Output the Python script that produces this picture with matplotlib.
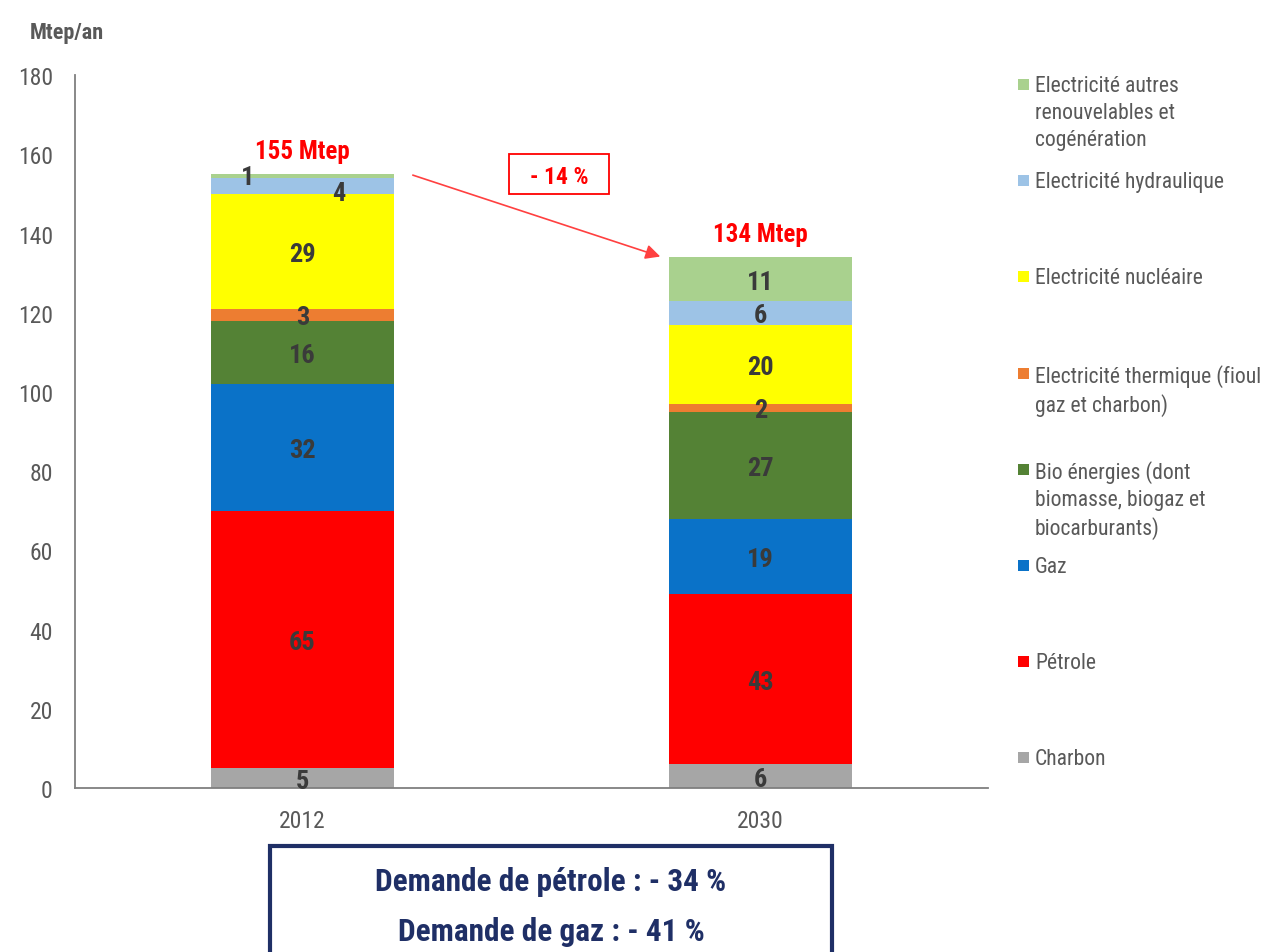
import numpy as np
import matplotlib
matplotlib.use("Agg")
import matplotlib.pyplot as plt
from matplotlib.patches import Rectangle

plt.rcParams['font.family'] = ['Roboto Condensed', 'Archivo Narrow', 'Liberation Sans', 'DejaVu Sans']

# data
years = ['2012', '2030']
categories = ['Charbon', 'Pétrole', 'Gaz',
              'Bio énergies (dont\nbiomasse, biogaz et\nbiocarburants)',
              'Electricité thermique (fioul\ngaz et charbon)',
              'Electricité nucléaire',
              'Electricité hydraulique',
              'Electricité autres\nrenouvelables et\ncogénération']
charbon = [5, 6]
petrole = [65, 43]
gaz = [32, 19]
bio = [16, 27]
thermique = [3, 2]
nucleaire = [29, 20]
hydraulique = [4, 6]
autres = [1, 11]
series = [charbon, petrole, gaz, bio, thermique, nucleaire, hydraulique, autres]
colors = ['#A6A6A6', '#FF0000', '#0A72C8', '#548235', '#ED7D31', '#FFFF00', '#9DC3E6', '#A9D18E']
change_label = '- 14 %'
box_lines = ['Demande de pétrole : - 34 %', 'Demande de gaz : - 41 %']

label_color = '#3A3A3A'
grey = '#595959'
navy = '#1F2F66'

fig = plt.figure(figsize=(12.67, 9.53), dpi=100)
ax = fig.add_axes([0.0592, 0.172, 0.7206, 0.748])

x = np.arange(len(years))
width = 0.40
bottom = np.zeros(len(years))
# small-segment label nudges (2012 autres / hydraulique)
nudge = {(7, 0): (-0.12, 0.5), (6, 0): (0.08, -1.2)}
for i, vals in enumerate(series):
    vals = np.array(vals, dtype=float)
    ax.bar(x, vals, width, bottom=bottom, color=colors[i], edgecolor='none')
    for j in range(len(years)):
        dx, dy = nudge.get((i, j), (0, 0))
        ax.text(x[j] + dx, bottom[j] + vals[j] / 2 + dy, str(int(vals[j])),
                ha='center', va='center_baseline', fontsize=19, fontweight='bold',
                color=label_color)
    bottom += vals

totals = bottom
for j in range(len(years)):
    ax.text(x[j], totals[j] + 6.5, f'{int(totals[j])} Mtep', ha='center',
            va='center_baseline', fontsize=18, fontweight='bold', color='#FF0000')

# arrow between totals
ax.annotate('', xy=(0.787, totals[1]), xytext=(0.235, totals[0]),
            arrowprops=dict(arrowstyle='-|>', color='#FF4040', lw=1.2, mutation_scale=22))
ax.add_patch(Rectangle((0.56 - 0.109, totals[0] - 5.05), 0.218, 10.1,
                       fc='white', ec='#FF0000', lw=1.3, zorder=4))
ax.text(0.56, totals[0], change_label, ha='center', va='center_baseline', fontsize=17,
        fontweight='bold', color='#FF0000', zorder=5)

ax.set_xlim(-0.497, 1.497)
ax.set_ylim(0, 180)
ax.set_yticks(np.arange(0, 181, 20))
ax.set_xticks(x)
ax.set_xticklabels(years)
ax.tick_params(axis='both', length=0, labelsize=17, colors=grey)
ax.tick_params(axis='y', pad=16)
ax.tick_params(axis='x', pad=15)
for s in ['top', 'right']:
    ax.spines[s].set_visible(False)
ax.spines['left'].set_color('#7F7F7F')
ax.spines['bottom'].set_color('#7F7F7F')
ax.spines['left'].set_linewidth(1.3)
ax.spines['bottom'].set_linewidth(1.3)

fig.text(30 / 1267, 1 - 31 / 953, 'Mtep/an', ha='left', va='center_baseline', fontsize=16,
         fontweight='bold', color=grey)

# legend, drawn top to bottom
leg_x = 1018 / 1267
leg_top = 85
for k, cat in enumerate(categories[::-1]):
    ypx = leg_top + 96.2 * k
    col = colors[::-1][k]
    fig.patches.append(Rectangle((leg_x, 1 - (ypx + 6) / 953), 11 / 1267, 11 / 953,
                                 transform=fig.transFigure, fc=col, ec='none'))
    fig.text(1035 / 1267, 1 - (ypx - 9) / 953, cat, ha='left', va='top', fontsize=15.6,
             color=grey, linespacing=1.36)

# bottom summary box
fig.patches.append(Rectangle((270 / 1267, -0.05), 562 / 1267, 0.05 + (953 - 847) / 953,
                             transform=fig.transFigure, fc='white', ec=navy, lw=3))
for k, line in enumerate(box_lines):
    fig.text(551 / 1267, 1 - (879 + 50 * k) / 953, line, ha='center', va='center_baseline',
             fontsize=22.5, fontweight='bold', color=navy)

fig.savefig('out.png', dpi=100)
